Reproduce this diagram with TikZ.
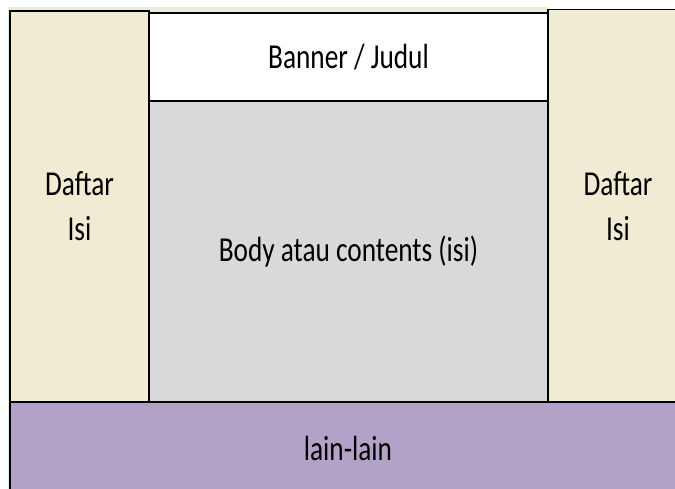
\documentclass[tikz,border=0pt]{standalone}
\usepackage{fontspec}
\setmainfont{Carlito}[FakeStretch=0.78]
\usepackage{tikz}

\definecolor{kolomcol}{HTML}{F2EBD3}
\definecolor{bodycol}{HTML}{D9D9D9}
\definecolor{lainkol}{HTML}{B3A2C7}
\definecolor{latarcol}{HTML}{E8ECDC}

\begin{document}
\begin{tikzpicture}[
                x=1pt,y=-1pt,
                line width=1.6pt,
                font=\fontsize{35}{45}\selectfont] %

                    \useasboundingbox (0,0) rectangle (675,489);
                    \clip (0,0) rectangle (675,489);

                    % latar
                    \fill[latarcol] (8,7) rectangle (548,489);

                    % 1
                    \node[draw,align=center,fill=kolomcol,text=black,inner sep=0pt,
                          minimum width=139pt,minimum height=391pt] (DaftarKiri) at (79.5,206.5) {Daftar\\Isi}; % 1
                    \node[draw,align=center,fill=white,text=black,inner sep=0pt,
                          minimum width=399pt,minimum height=88pt] (Banner) at (348.5,57) {Banner / Judul}; % 2
                    \node[draw,align=center,fill=bodycol,text=black,inner sep=0pt,
                          minimum width=399pt,minimum height=301pt] (Body) at (348.5,251.5) {Body atau contents (isi)}; % 3
                    \node[draw,align=center,fill=kolomcol,text=black,inner sep=0pt,
                          minimum width=140pt,minimum height=392.5pt] (DaftarKanan) at (618,205.75) {Daftar\\Isi}; % 4

                    % 2
                    \node[draw,align=center,fill=lainkol,text=black,inner sep=0pt,
                          minimum width=676pt,minimum height=92pt] (LainLain) at (348,448) {lain-lain}; % 5

                    \end{tikzpicture}
\end{document}
